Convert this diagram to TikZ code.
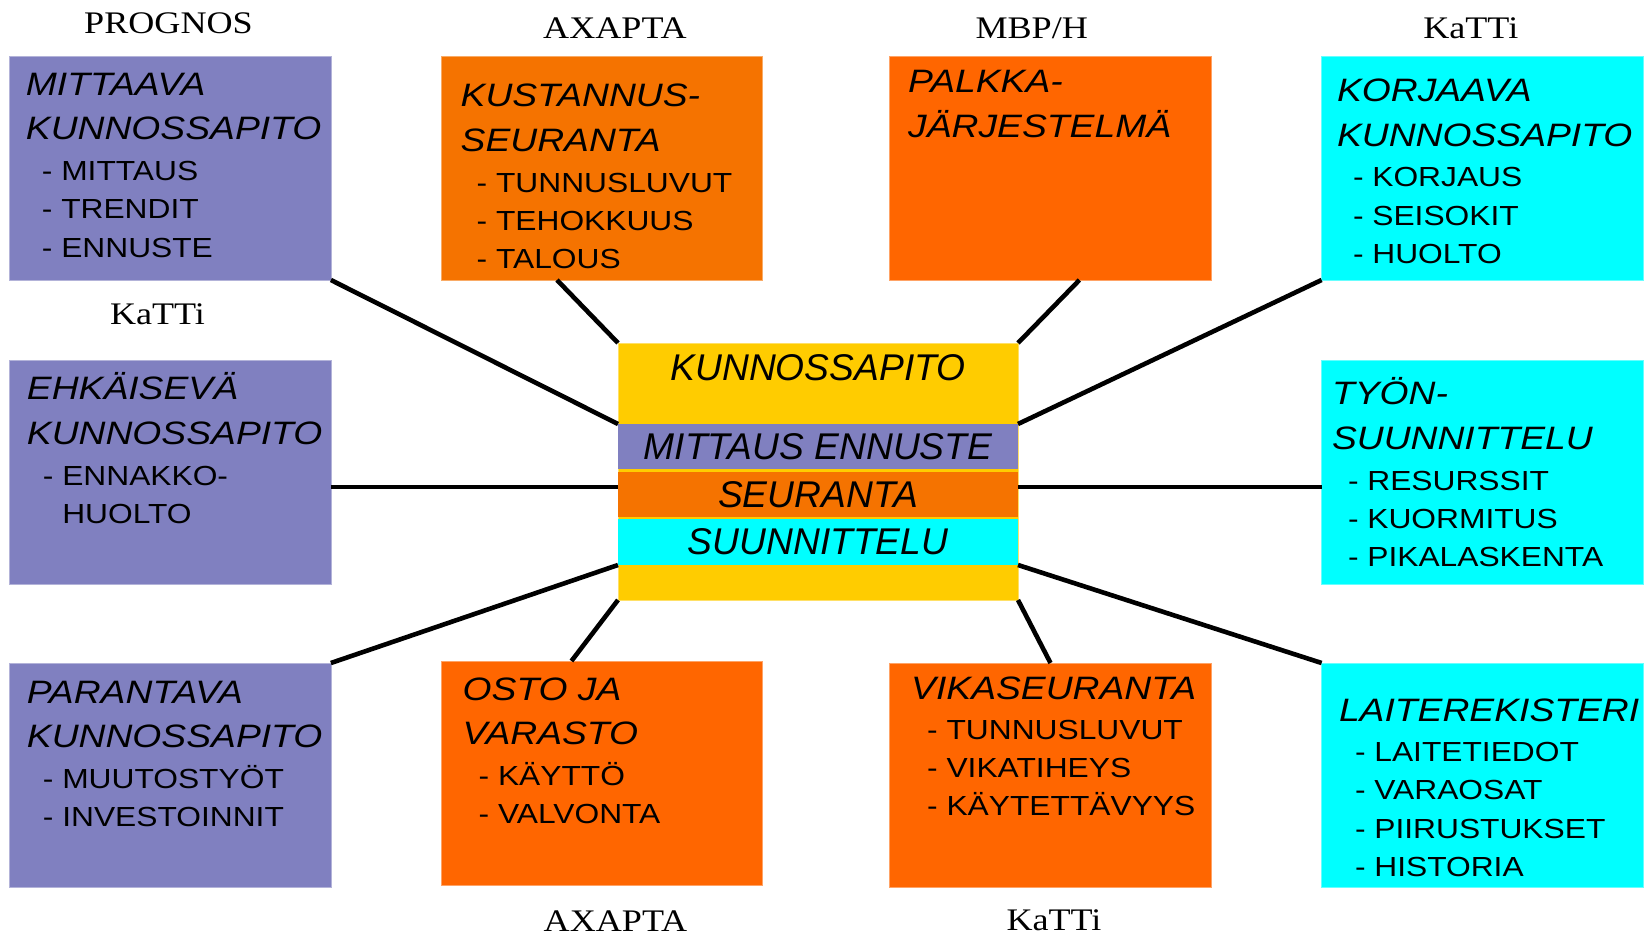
\documentclass[tikz,border=0pt]{standalone}
\usepackage{fontspec}
\usepackage{tikz}
\usetikzlibrary{calc}

\newfontfamily\boxfont{Liberation Sans}[FakeStretch=1.15]
\newfontfamily\midfont{Liberation Sans}
\newfontfamily\tagfont{Liberation Serif}[FakeStretch=1.15]

\definecolor{kpPurple}{RGB}{128,128,192}
\definecolor{kpOrange}{RGB}{245,115,0}
\definecolor{kpRed}{RGB}{255,102,0}
\definecolor{kpCyan}{RGB}{0,255,255}
\definecolor{kpYellow}{RGB}{255,204,0}

\newcommand{\hd}{\fontsize{16.2}{19.2}\selectfont\itshape}
\newcommand{\kpitem}{\hspace*{8pt}- }
\newcommand{\kplines}[1]{\begin{tabular}[t]{@{}l@{}}#1\end{tabular}}

\begin{document}
\begin{tikzpicture}[%
      x=0.5pt, y=-0.5pt,
      box/.style={fill=#1, draw=#1!60!white, line width=0.4pt,
        minimum width=160.7pt, minimum height=112pt, inner sep=0pt, outer sep=0pt},
      band/.style={fill=#1, minimum width=200pt, inner sep=0pt, outer sep=0pt,
        font=\midfont\fontsize{18.6}{22}\selectfont\itshape},
      boxtext/.style={anchor=base west, inner sep=0pt,
        font=\boxfont\fontsize{13.8}{19.2}\selectfont},
      tag/.style={anchor=base, inner sep=0pt, font=\tagfont\fontsize{15.7}{18}\selectfont},
      link/.style={line width=2.3pt},
      ]
      \useasboundingbox (0,0) rectangle (1651,936);

      % boxes round the centre
      \node[box=kpPurple] (mitt) at (170.2,168) {};
      \node[box=kpPurple] (ehk) at (170.2,472) {};
      \node[box=kpPurple] (par) at (170.2,775) {};
      \node[box=kpOrange] (kust) at (602,168) {};
      \node[box=kpRed] (osto) at (602,773) {};
      \node[box=kpRed] (palk) at (1050.5,168) {};
      \node[box=kpRed] (vika) at (1050.5,775) {};
      \node[box=kpCyan] (korj) at (1482.3,168) {};
      \node[box=kpCyan] (tyo) at (1482.3,472) {};
      \node[box=kpCyan] (lait) at (1482.3,775) {};

      \node[boxtext] (mitt-t) at ($(mitt.north west)+(16,39.3)$)
        {\kplines{{\hd MITTAAVA}\\[3pt] {\hd KUNNOSSAPITO}\\[1.2pt]
         \kpitem MITTAUS\\ \kpitem TRENDIT\\ \kpitem ENNUSTE}};
      \node[boxtext] (ehk-t) at ($(ehk.north west)+(17,40)$)
        {\kplines{{\hd EHKÄISEVÄ}\\[3pt] {\hd KUNNOSSAPITO}\\[1.2pt]
         \kpitem ENNAKKO-\\ \hspace*{8pt}\hphantom{-}\ HUOLTO}};
      \node[boxtext] (par-t) at ($(par.north west)+(17,40)$)
        {\kplines{{\hd PARANTAVA}\\[3pt] {\hd KUNNOSSAPITO}\\[1.2pt]
         \kpitem MUUTOSTYÖT\\ \kpitem INVESTOINNIT}};
      \node[boxtext] (kust-t) at ($(kust.north west)+(19,51)$)
        {\kplines{{\hd KUSTANNUS-}\\[3pt] {\hd SEURANTA}\\[1.2pt]
         \kpitem TUNNUSLUVUT\\ \kpitem TEHOKKUUS\\ \kpitem TALOUS}};
      \node[boxtext] (osto-t) at ($(osto.north west)+(21,39.3)$)
        {\kplines{{\hd OSTO JA}\\[3pt] {\hd VARASTO}\\[1.2pt]
         \kpitem KÄYTTÖ\\ \kpitem VALVONTA}};
      \node[boxtext] (palk-t) at ($(palk.north west)+(18,36.7)$)
        {\kplines{{\hd PALKKA-}\\[3pt] {\hd JÄRJESTELMÄ}}};
      \node[boxtext] (vika-t) at ($(vika.north west)+(21,36)$)
        {\kplines{{\hd VIKASEURANTA}\\[0.8pt]
         \kpitem TUNNUSLUVUT\\ \kpitem VIKATIHEYS\\ \kpitem KÄYTETTÄVYYS}};
      \node[boxtext] (korj-t) at ($(korj.north west)+(15,45.7)$)
        {\kplines{{\hd KORJAAVA}\\[3pt] {\hd KUNNOSSAPITO}\\[1.2pt]
         \kpitem KORJAUS\\ \kpitem SEISOKIT\\ \kpitem HUOLTO}};
      \node[boxtext] (tyo-t) at ($(tyo.north west)+(10,45)$)
        {\kplines{{\hd TYÖN-}\\[3pt] {\hd SUUNNITTELU}\\[1.2pt]
         \kpitem RESURSSIT\\ \kpitem KUORMITUS\\ \kpitem PIKALASKENTA}};
      \node[boxtext] (lait-t) at ($(lait.north west)+(17,58.4)$)
        {\kplines{{\hd LAITEREKISTERI}\\[0.8pt]
         \kpitem LAITETIEDOT\\ \kpitem VARAOSAT\\ \kpitem PIIRUSTUKSET\\ \kpitem HISTORIA}};

      % centre block
      \node[fill=kpYellow, draw=kpYellow!60!white, line width=0.4pt, minimum width=200pt,
        minimum height=128.5pt, inner sep=0pt, outer sep=0pt] (kp) at (818,471.5) {};
      \node[anchor=base, inner sep=0pt, font=\midfont\fontsize{18.6}{22}\selectfont\itshape]
        (kp-t) at ($(kp.north)+(0,37.7)$) {KUNNOSSAPITO};
      \node[band=kpPurple, minimum height=22.5pt] (bMit) at (818,446.5) {MITTAUS ENNUSTE};
      \node[band=kpOrange, minimum height=22.5pt] (bSeu) at (818,494.2) {SEURANTA};
      \node[band=kpCyan, minimum height=23pt] (bSuu) at (818,542) {SUUNNITTELU};

      \coordinate (midline) at (0,487);
      \draw[link] (mitt.south east) -- (bMit.north west);
      \draw[link] ($(kust.south west)!0.36!(kust.south east)$) -- (kp.north west);
      \draw[link] ($(palk.south west)!0.59!(palk.south east)$) -- (kp.north east);
      \draw[link] (korj.south west) -- (bMit.north east);
      \draw[link] (ehk.east |- midline) -- (kp.west |- midline);
      \draw[link] (kp.east |- midline) -- (tyo.west |- midline);
      \draw[link] (par.north east) -- (bSuu.south west);
      \draw[link] ($(osto.north west)!0.405!(osto.north east)$) -- (kp.south west);
      \draw[link] (vika.north) -- (kp.south east);
      \draw[link] (lait.north west) -- (bSuu.south east);

      \node[tag] (tProg) at (168.5,34) {PROGNOS};
      \node[tag] (tAxTop) at (615,38.3) {AXAPTA};
      \node[tag] (tMbp) at (1031.7,38.3) {MBP/H};
      \node[tag] (tKatTop) at (1470.8,38.3) {KaTTi};
      \node[tag] (tKatLeft) at (157.5,325) {KaTTi};
      \node[tag] (tAxBot) at (615.5,931) {AXAPTA};
      \node[tag] (tKatBot) at (1054,930) {KaTTi};
\end{tikzpicture}
\end{document}
